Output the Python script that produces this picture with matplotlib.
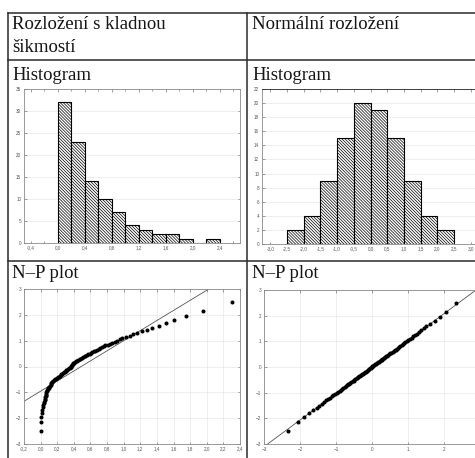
import matplotlib
matplotlib.use('Agg')
import matplotlib.pyplot as plt
from matplotlib.lines import Line2D
from matplotlib.ticker import MultipleLocator, FuncFormatter
from statistics import NormalDist
import numpy as np

plt.rcParams['font.family'] = ['Liberation Serif', 'DejaVu Serif']
plt.rcParams['hatch.linewidth'] = 0.5

W, H = 475, 458

# texty tabulky
nadpis_levy = ['Rozložení s kladnou', 'šikmostí']
nadpis_pravy = 'Normální rozložení'
radek_hist = 'Histogram'
radek_np = 'N–P plot'

# histogram - kladna sikmost
hist1_hrany = [0.0, 0.2, 0.4, 0.6, 0.8, 1.0, 1.2, 1.4, 1.6, 1.8, 2.0, 2.2, 2.4]
hist1_cetnosti = [32, 23, 14, 10, 7, 4, 3, 2, 2, 1, 0, 1]

# histogram - normalni rozlozeni
hist2_hrany = [-2.5, -2.0, -1.5, -1.0, -0.5, 0.0, 0.5, 1.0, 1.5, 2.0, 2.5]
hist2_cetnosti = [2, 4, 9, 15, 20, 19, 15, 9, 4, 2]

# namerene hodnoty (serazene) pro N-P plot
vzorek_sikmy = [
    0.00, 0.01, 0.01, 0.02, 0.02, 0.03, 0.03, 0.04, 0.04, 0.05,
    0.05, 0.05, 0.06, 0.06, 0.07, 0.07, 0.08, 0.08, 0.09, 0.09,
    0.10, 0.10, 0.11, 0.12, 0.12, 0.13, 0.14, 0.14, 0.15, 0.16,
    0.17, 0.19,
    0.20, 0.21, 0.22, 0.23, 0.24, 0.25, 0.26, 0.27, 0.28, 0.29,
    0.30, 0.31, 0.32, 0.33, 0.34, 0.35, 0.36, 0.36, 0.37, 0.38,
    0.38, 0.39, 0.39,
    0.40, 0.41, 0.43, 0.44, 0.45, 0.47, 0.48, 0.50, 0.51, 0.53,
    0.54, 0.56, 0.57, 0.59,
    0.61, 0.62, 0.64, 0.66, 0.68, 0.70, 0.72, 0.74, 0.76, 0.78,
    0.81, 0.83, 0.86, 0.89, 0.92, 0.95, 0.98,
    1.03, 1.07, 1.11, 1.16,
    1.22, 1.28, 1.34,
    1.42, 1.51,
    1.61, 1.75,
    1.95,
    2.30,
]

vzorek_normalni = [
    -2.33, -2.06,
    -1.88, -1.75, -1.64, -1.54,
    -1.46, -1.39, -1.33, -1.27, -1.21, -1.16, -1.11, -1.07, -1.02,
    -0.98, -0.94, -0.90, -0.87, -0.83, -0.80, -0.76, -0.73, -0.70, -0.67,
    -0.63, -0.60, -0.57, -0.54, -0.51,
    -0.49, -0.46, -0.43, -0.41, -0.38, -0.35, -0.33, -0.30, -0.28, -0.25,
    -0.22, -0.20, -0.17, -0.15, -0.12, -0.10, -0.07, -0.05, -0.03, -0.01,
    0.01, 0.04, 0.06, 0.09, 0.11, 0.14, 0.16, 0.19, 0.21, 0.24,
    0.27, 0.29, 0.32, 0.34, 0.37, 0.40, 0.43, 0.45, 0.48,
    0.51, 0.54, 0.57, 0.60, 0.63, 0.66, 0.69, 0.72, 0.75, 0.79,
    0.82, 0.85, 0.89, 0.93, 0.97,
    1.01, 1.05, 1.10, 1.15, 1.20, 1.25, 1.31, 1.37, 1.44,
    1.51, 1.62, 1.75, 1.88,
    2.05, 2.34,
]


def osy_px(fig, x0, y0, x1, y1):
    # souradnice v pixelech od leveho horniho rohu
    return fig.add_axes([x0 / W, 1 - y1 / H, (x1 - x0) / W, (y1 - y0) / H])


def carka(fmt):
    return FuncFormatter(lambda v, pos: (fmt % v).replace('.', ','))


def styl_os(ax):
    for s in ax.spines.values():
        s.set_color('#8a8a8a')
        s.set_linewidth(0.6)
    ax.tick_params(which='both', direction='in', top=True, right=True,
                   length=1.8, width=0.5, color='#777777', labelsize=3.3,
                   labelcolor='#555555', pad=2, labelfontfamily='Liberation Sans')
    ax.tick_params(which='minor', length=1.2)


def histogram(ax, hrany, cetnosti):
    ax.bar(hrany[:-1], cetnosti, width=np.diff(hrany), align='edge',
           color='white', edgecolor='black', linewidth=0.8,
           hatch='\\' * 11, zorder=2)
    ax.yaxis.grid(True, color='#e2e2e2', lw=0.4, zorder=0)
    ax.set_axisbelow(True)


def np_plot(ax, vzorek):
    n = len(vzorek)
    x = np.sort(vzorek)
    z = [NormalDist().inv_cdf((i - 0.375) / (n + 0.25)) for i in range(1, n + 1)]
    k, q = np.polyfit(x, z, 1)
    xs = np.array(ax.get_xlim())
    ax.plot(xs, k * xs + q, color='#555555', lw=0.6, zorder=2)
    ax.plot(x, z, 'o', ms=1.9, color='black', mec='black', zorder=3)
    ax.set_ylim(-3, 3)
    ax.yaxis.set_major_locator(MultipleLocator(1))
    ax.grid(True, color='#e2e2e2', lw=0.4, zorder=0)
    ax.set_axisbelow(True)


fig = plt.figure(figsize=(W / 100, H / 100), dpi=100)

# tabulka
cara = dict(color='#2a2a2a', lw=1.1)
car = [
    ((8, 475), (12.5, 12.5)),
    ((8, 8), (12.5, 458)),
    ((247, 247), (12.5, 458)),
    ((8, 475), (60, 60)),
    ((8, 475), (261, 261)),
]
for xs, ys in car:
    fig.add_artist(Line2D([x / W for x in xs], [1 - y / H for y in ys],
                          transform=fig.transFigure, **cara))

txt = dict(fontsize=13.5, color='#151515', va='baseline')
fig.text(12 / W, 1 - 29 / H, nadpis_levy[0], **txt)
fig.text(12 / W, 1 - 52 / H, nadpis_levy[1], **txt)
fig.text(252 / W, 1 - 29 / H, nadpis_pravy, **txt)
fig.text(12 / W, 1 - 80 / H, radek_hist, **txt)
fig.text(252 / W, 1 - 80 / H, radek_hist, **txt)
fig.text(12 / W, 1 - 278 / H, radek_np, **txt)
fig.text(252 / W, 1 - 278 / H, radek_np, **txt)

# histogram - kladna sikmost
ax1 = osy_px(fig, 24, 89, 240, 243)
histogram(ax1, hist1_hrany, hist1_cetnosti)
ax1.set_xlim(-0.5, 2.7)
ax1.set_ylim(0, 35)
ax1.xaxis.set_major_locator(MultipleLocator(0.4))
ax1.xaxis.set_minor_locator(MultipleLocator(0.2))
ax1.xaxis.set_major_formatter(carka('%.1f'))
ax1.yaxis.set_major_locator(MultipleLocator(5))
styl_os(ax1)

# histogram - normalni
ax2 = osy_px(fig, 262, 89, 479, 244)
histogram(ax2, hist2_hrany, hist2_cetnosti)
ax2.set_xlim(-3.25, 3.25)
ax2.set_ylim(0, 22)
ax2.xaxis.set_major_locator(MultipleLocator(0.5))
ax2.xaxis.set_major_formatter(carka('%.1f'))
ax2.yaxis.set_major_locator(MultipleLocator(2))
styl_os(ax2)
ax2.spines['top'].set_color('#222222')

# N-P plot - kladna sikmost
ax3 = osy_px(fig, 24, 289, 240, 444)
ax3.set_xlim(-0.2, 2.4)
np_plot(ax3, vzorek_sikmy)
ax3.xaxis.set_major_locator(MultipleLocator(0.2))
ax3.xaxis.set_major_formatter(carka('%.1f'))
styl_os(ax3)

# N-P plot - normalni
ax4 = osy_px(fig, 264, 290, 480, 444)
ax4.set_xlim(-3, 3)
np_plot(ax4, vzorek_normalni)
ax4.set_xticks([-3, -2, -1, 0, 1, 2])
styl_os(ax4)

fig.savefig('out.png', dpi=100)
